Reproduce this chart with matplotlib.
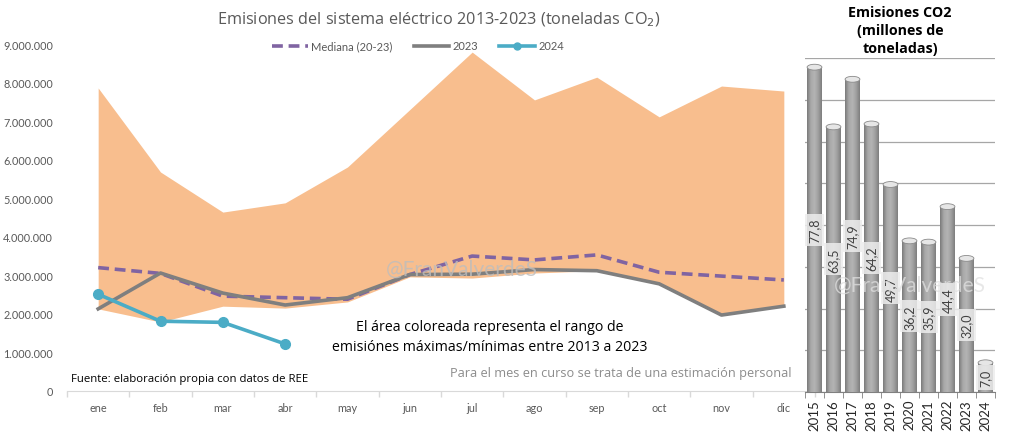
import numpy as np
import matplotlib
matplotlib.use("Agg")
import matplotlib.pyplot as plt
from matplotlib.colors import LinearSegmentedColormap
from matplotlib.lines import Line2D
from matplotlib.patches import Ellipse

plt.rcParams['font.family'] = ['Lato', 'DejaVu Sans']

# ---------------- data ----------------
months = ["ene", "feb", "mar", "abr", "may", "jun", "jul", "ago", "sep", "oct", "nov", "dic"]
band_max = [7.86e6, 5.68e6, 4.64e6, 4.88e6, 5.81e6, 7.30e6, 8.79e6, 7.55e6, 8.14e6, 7.11e6, 7.91e6, 7.78e6]
band_min = [2.13e6, 1.79e6, 2.20e6, 2.15e6, 2.31e6, 2.96e6, 2.93e6, 3.06e6, 3.12e6, 2.78e6, 1.97e6, 2.20e6]
mediana = [3.20e6, 3.05e6, 2.46e6, 2.42e6, 2.38e6, 3.02e6, 3.50e6, 3.40e6, 3.53e6, 3.08e6, 2.98e6, 2.88e6]
y2023 = [2.13e6, 3.06e6, 2.54e6, 2.23e6, 2.42e6, 3.02e6, 3.03e6, 3.15e6, 3.12e6, 2.78e6, 1.97e6, 2.20e6]
y2024 = [2.51e6, 1.81e6, 1.78e6, 1.22e6]

years = ["2015", "2016", "2017", "2018", "2019", "2020", "2021", "2022", "2023", "2024"]
annual = [77.8, 63.5, 74.9, 64.2, 49.7, 36.2, 35.9, 44.4, 32.0, 7.0]

# ---------------- style ----------------
ORANGE = "#F8BE8E"
PURPLE = "#8064A2"
GRAY = "#7F7F7F"
TEAL = "#4BACC6"
TXT = "#595959"

fig = plt.figure(figsize=(10.09, 4.39), dpi=100)

# ---------------- left chart ----------------
ax = fig.add_axes([67/1009, 1-392/439, 748/1009, 347/439])
x = np.arange(len(months))
ax.fill_between(x, band_min, band_max, color=ORANGE, lw=0, zorder=1)
ax.plot(x, mediana, color=PURPLE, lw=2.6, ls=(0, (3, 1.6)), zorder=3)
ax.plot(x, y2023, color=GRAY, lw=2.6, zorder=4)
ax.plot(np.arange(len(y2024)), y2024, color=TEAL, lw=2.6, marker="o", ms=7, zorder=5)

ax.set_xlim(-0.5, len(months) - 0.5)
ax.set_ylim(0, 9e6)
ax.set_yticks(np.arange(0, 9e6 + 1, 1e6))
ax.set_yticklabels([f"{int(v):,}".replace(",", ".") for v in np.arange(0, 9e6 + 1, 1e6)],
                   fontsize=7.8, color=TXT)
ax.set_xticks(x)
ax.set_xticklabels(months, fontsize=7.8, color=TXT)
ax.set_xticks(np.arange(-0.5, len(months)), minor=True)
ax.tick_params(axis="x", which="major", length=0, pad=8)
ax.tick_params(axis="x", which="minor", length=4, color="#D9D9D9", width=1)
ax.tick_params(axis="y", length=0, pad=10)
for s in ["top", "right", "left"]:
    ax.spines[s].set_visible(False)
ax.spines["bottom"].set_color("#D9D9D9")
ax.set_facecolor("none")

ax.text(0.528, 0.352, "@FranValverdeS", transform=ax.transAxes, ha="center", va="center",
        fontsize=15, color="#BDBDBD", alpha=0.8, zorder=6)

ax.text(0.565, 0.158, "El área coloreada representa el rango de\nemisiónes máximas/mínimas entre 2013 a 2023",
        transform=ax.transAxes, ha="center", va="center", fontsize=10.2, color="black",
        linespacing=1.45, family=["Open Sans", "DejaVu Sans"], zorder=7)
ax.text(0.005, 0.02, "Fuente: elaboración propia con datos de REE", transform=ax.transAxes,
        ha="left", va="bottom", fontsize=8.2, color="black", family=["Open Sans", "DejaVu Sans"])
ax.text(0.969, 0.035, "Para el mes en curso se trata de una estimación personal", transform=ax.transAxes,
        ha="right", va="bottom", fontsize=9.2, color="#8C8C8C", family=["Open Sans", "DejaVu Sans"])

fig.text(439/1009, 1-20/439, "Emisiones del sistema eléctrico 2013-2023 (toneladas CO$_2$)",
         ha="center", va="center", fontsize=11.7, color=TXT, family=["Open Sans", "DejaVu Sans"])

handles = [Line2D([], [], color=PURPLE, lw=2.6, ls=(0, (3, 1.6))),
           Line2D([], [], color=GRAY, lw=2.6),
           Line2D([], [], color=TEAL, lw=2.6, marker="o", ms=5)]
fig.legend(handles, ["Mediana (20-23)", "2023", "2024"], loc="center", ncol=3,
           bbox_to_anchor=(418/1009, 1-47/439), frameon=False, fontsize=8,
           labelcolor=TXT, handlelength=3.2, columnspacing=1.9, handletextpad=0.3)

# ---------------- right chart ----------------
bx = fig.add_axes([805/1009, 1-393/439, 190/1009, 334/439])
xb = np.arange(len(years))
bw = 0.78
bars = bx.bar(xb, annual, width=bw, color="#A6A6A6", zorder=2, lw=0)
cmap = LinearSegmentedColormap.from_list("cyl", ["#7A7A7A", "#A8A8A8", "#B4B4B4", "#A0A0A0", "#7E7E7E"])
grad = np.linspace(0, 1, 64).reshape(1, -1)
for xi, v, b in zip(xb, annual, bars):
    im = bx.imshow(grad, extent=[xi - bw/2, xi + bw/2, 0, v], aspect="auto", cmap=cmap,
                   zorder=3, interpolation="bilinear")
    im.set_clip_path(b)
    bx.add_patch(Ellipse((xi, v), bw, 1.4, facecolor="#E6E6E6", edgecolor="#8A8A8A", lw=0.6, zorder=4))

bx.set_xlim(-0.5, len(years) - 0.5)
bx.set_ylim(0, 80)
bx.set_yticks(np.arange(0, 81, 10))
bx.yaxis.grid(True, color="#A6A6A6", lw=0.9, zorder=0)
bx.set_axisbelow(True)
bx.tick_params(axis="y", length=0, labelleft=False)
bx.set_xticks(xb)
bx.set_xticklabels(years, rotation=90, fontsize=9.5, color="#262626")
bx.set_xticks(np.arange(-0.5, len(years)), minor=True)
bx.tick_params(axis="x", which="major", length=0, pad=5)
bx.tick_params(axis="x", which="minor", length=4, color="#808080")
for s in ["top", "right", "left"]:
    bx.spines[s].set_visible(False)
bx.spines["bottom"].set_color("#808080")
bx.set_facecolor("none")

for xi, v in zip(xb, annual):
    bx.text(xi, v / 2, f"{v:.1f}".replace(".", ","), rotation=90, ha="center", va="center",
            fontsize=9, color="#404040", zorder=6,
            bbox=dict(boxstyle="square,pad=0.3", facecolor="#EDEDED", edgecolor="none", alpha=0.85))

bx.text(0.55, 0.32, "@FranValverdeS", transform=bx.transAxes, ha="center", va="center",
        fontsize=15, color="#E0E0E0", alpha=0.75, zorder=7)

fig.text(900/1009, 1-31/439, "Emisiones CO2\n(millones de\ntoneladas)", ha="center", va="center",
         fontsize=10.3, fontweight="bold", color="black", linespacing=1.4,
         family=["Open Sans", "DejaVu Sans"])

fig.savefig("out.png", dpi=100)
